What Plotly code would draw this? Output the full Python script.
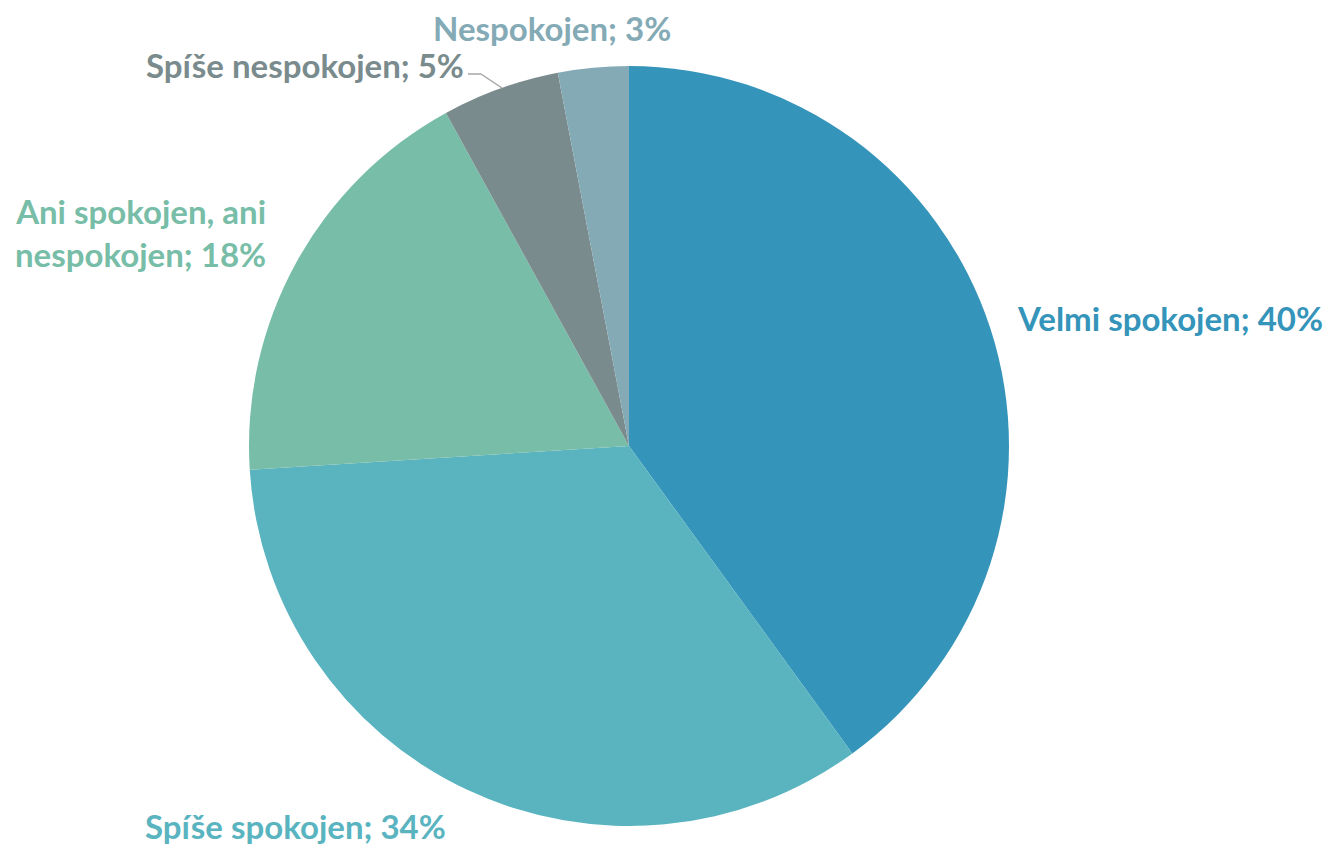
import plotly.graph_objects as go

categories = ['Velmi spokojen', 'Spíše spokojen', 'Ani spokojen, ani nespokojen',
              'Spíše nespokojen', 'Nespokojen']
values = [40, 34, 18, 5, 3]
colors = ['#3594BA', '#59B4C0', '#77BDA7', '#7A8B8D', '#84AAB6']

W, H = 1330, 847

fig = go.Figure()

# pie: centre (629, 446), radius 380 px
fig.add_trace(go.Pie(
    labels=categories, values=values, sort=False, direction='clockwise', rotation=0,
    marker=dict(colors=colors, line=dict(width=0)),
    textinfo='none', hoverinfo='label+percent', showlegend=False,
    domain=dict(x=[(629 - 380) / W, (629 + 380) / W], y=[(401 - 380) / H, (401 + 380) / H]),
))

# label positions (px, right edge / y centre) in order of categories
label_pos = [
    (1325, 318),
    (448, 826),
    (268, 232),
    (466, 65),
    (673, 28),
]
texts = [f'{c}; {v}%' for c, v in zip(categories, values)]
texts[2] = 'Ani spokojen, ani<br>nespokojen; 18%'

for t, (x, y), col in zip(texts, label_pos, colors):
    fig.add_annotation(
        x=x / W, y=1 - y / H, xref='paper', yref='paper', text=f'<b>{t}</b>',
        showarrow=False, xanchor='right', yanchor='middle', align='right',
        font=dict(family='Lato', size=33, color=col),
    )

# leader line for the small slice
for x0, y0, x1, y1 in [(468, 74, 481, 74), (481, 74, 502, 88)]:
    fig.add_shape(type='line', xref='paper', yref='paper',
                  x0=x0 / W, y0=1 - y0 / H, x1=x1 / W, y1=1 - y1 / H,
                  line=dict(color='#A6A6A6', width=1.5))

fig.update_layout(
    width=W, height=H,
    margin=dict(l=0, r=0, t=0, b=0),
    paper_bgcolor='white', plot_bgcolor='white',
)

fig.write_html('out.html', config={'displayModeBar': False},
               post_script="document.body.style.margin='0';document.body.style.overflow='hidden';")
